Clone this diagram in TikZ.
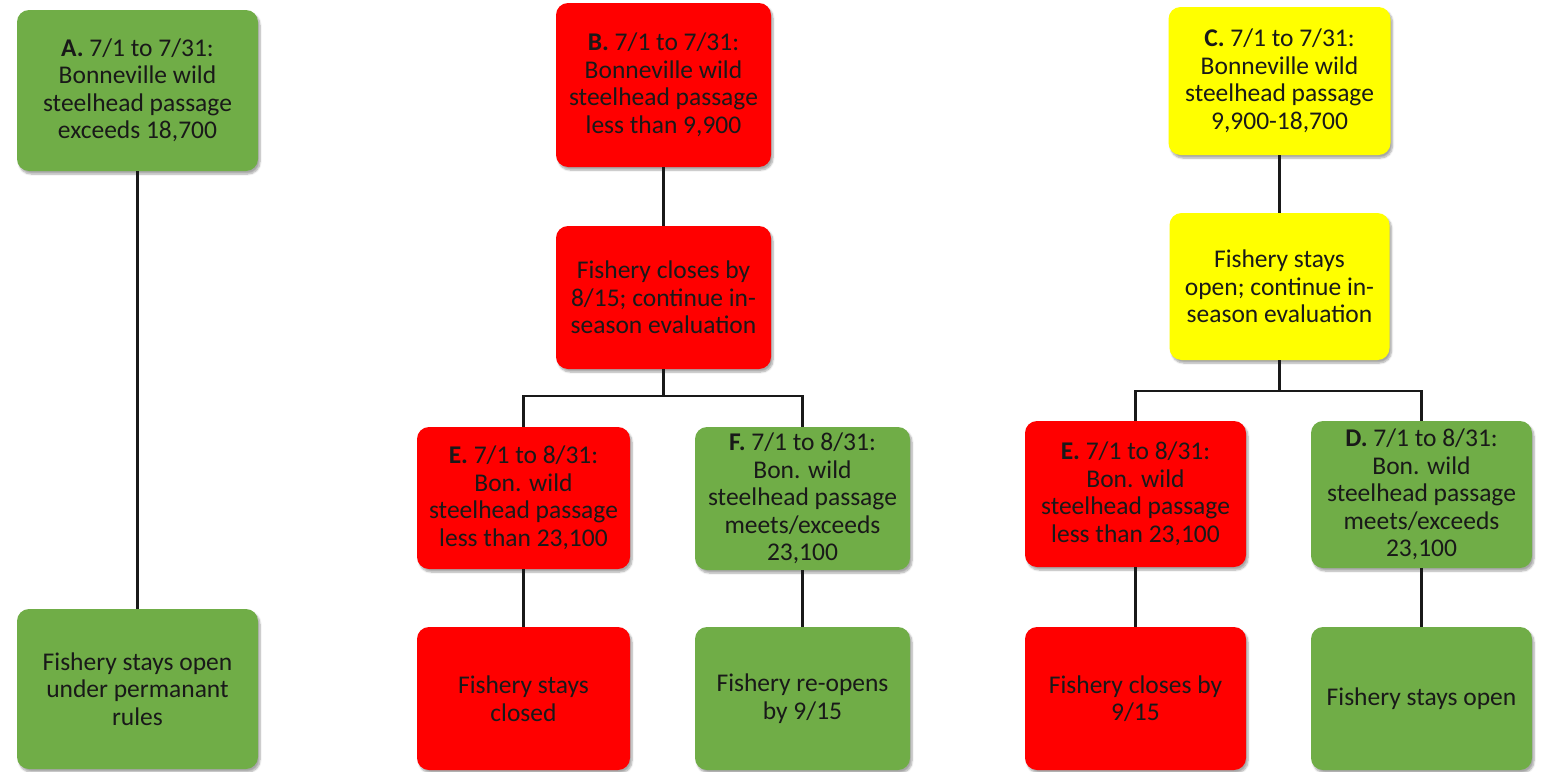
\documentclass[tikz,border=0pt]{standalone}
\usepackage{fontspec}
\setmainfont{Carlito}
\usetikzlibrary{shadows.blur}
\definecolor{grn}{HTML}{70AD47}
\definecolor{rd}{HTML}{FF0000}
\definecolor{yl}{HTML}{FFFF00}
\tikzset{
  box/.style={rounded corners=12pt, align=center, inner sep=2pt, text=black!90,
    font=\fontsize{25.5}{27.5}\selectfont,
    blur shadow={shadow xshift=2pt, shadow yshift=-3pt, shadow blur steps=6, shadow opacity=35}},
  gbox/.style={box, fill=grn},
  rbox/.style={box, fill=rd},
  ybox/.style={box, fill=yl},
  link/.style={line width=2.3pt, black!90}
}
\begin{document}
\begin{tikzpicture}[x=1pt,y=-1pt]
\useasboundingbox (0,0) rectangle (1550,771);
% column A
\node[gbox, minimum width=241pt, minimum height=161pt] (A) at (137.5,90.5)
  {\textbf{A.} 7/1 to 7/31:\\Bonneville wild\\steelhead passage\\exceeds 18,700};
\node[gbox, minimum width=241pt, minimum height=160pt] (A2) at (137.5,689)
  {Fishery stays open\\under permanant\\rules};
% column B
\node[rbox, minimum width=215pt, minimum height=164pt] (B) at (663.5,85)
  {\textbf{B.} 7/1 to 7/31:\\Bonneville wild\\steelhead passage\\less than 9,900};
\node[rbox, minimum width=215pt, minimum height=143pt] (B2) at (663.5,297.5)
  {Fishery closes by\\8/15; continue in-\\season evaluation};
\node[rbox, minimum width=213pt, minimum height=142pt] (E1) at (523.5,498)
  {\textbf{E.} 7/1 to 8/31:\\Bon. wild\\steelhead passage\\less than 23,100};
\node[gbox, minimum width=215pt, minimum height=143pt] (F) at (802.5,498.5)
  {\textbf{F.} 7/1 to 8/31:\\Bon. wild\\steelhead passage\\meets/exceeds\\23,100};
\node[rbox, minimum width=213pt, minimum height=143pt] (E1b) at (523.5,698.5)
  {Fishery stays\\closed};
\node[gbox, minimum width=215pt, minimum height=143pt] (Fb) at (802.5,698.5)
  {Fishery re-opens\\by 9/15};
% column C
\node[ybox, minimum width=222pt, minimum height=148pt] (C) at (1279.5,81)
  {\textbf{C.} 7/1 to 7/31:\\Bonneville wild\\steelhead passage\\9,900-18,700};
\node[ybox, minimum width=220pt, minimum height=147pt] (C2) at (1279.5,286.5)
  {Fishery stays\\open; continue in-\\season evaluation};
\node[rbox, minimum width=221pt, minimum height=146pt] (E2) at (1135.5,494)
  {\textbf{E.} 7/1 to 8/31:\\Bon. wild\\steelhead passage\\less than 23,100};
\node[gbox, minimum width=221pt, minimum height=147pt] (D) at (1421.5,494.5)
  {\textbf{D.} 7/1 to 8/31:\\Bon. wild\\steelhead passage\\meets/exceeds\\23,100};
\node[rbox, minimum width=221pt, minimum height=143pt] (E2b) at (1135.5,698.5)
  {Fishery closes by\\9/15};
\node[gbox, minimum width=221pt, minimum height=143pt] (Db) at (1421.5,698.5)
  {Fishery stays open};
% connectors
\coordinate (jB) at (663.5,396);
\coordinate (jC) at (1279.5,391);
\draw[link] (A.south) -- (A2.north);
\draw[link] (B.south) -- (B2.north);
\draw[link] (B2.south) -- (jB);
\draw[link] (E1.north) |- (jB) -| (F.north);
\draw[link] (E1.south) -- (E1b.north);
\draw[link] (F.south) -- (Fb.north);
\draw[link] (C.south) -- (C2.north);
\draw[link] (C2.south) -- (jC);
\draw[link] (E2.north) |- (jC) -| (D.north);
\draw[link] (E2.south) -- (E2b.north);
\draw[link] (D.south) -- (Db.north);
\end{tikzpicture}
\end{document}
